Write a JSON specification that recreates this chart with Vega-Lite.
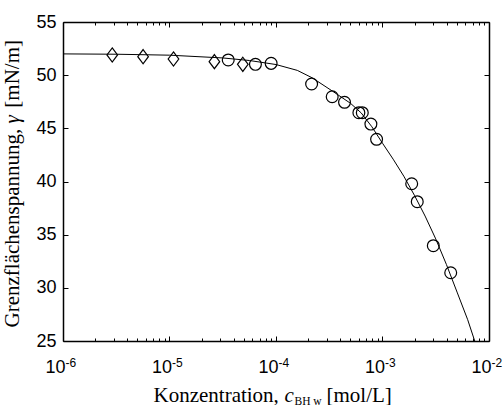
{
  "$schema": "https://vega.github.io/schema/vega-lite/v6.json",
  "width": 426,
  "height": 319,
  "autosize": {"type": "none"},
  "padding": {"left": 63, "top": 22, "right": 15, "bottom": 64},
  "background": "white",
  "config": {
    "view": {"stroke": null},
    "axis": {
      "grid": false,
      "domainColor": "black",
      "domainWidth": 1.5,
      "tickColor": "black",
      "tickWidth": 1,
      "labelColor": "black",
      "titleColor": "black",
      "labelFont": "Liberation Sans",
      "labelFontSize": 18,
      "titleFont": "Liberation Serif",
      "titleFontSize": 21,
      "titleFontWeight": "normal",
      "labelFlush": false,
      "labelOverlap": false
    }
  },
  "datasets": {
    "curve": [
      {"c": 0.000001, "gamma": 52.0},
      {"c": 0.000003162, "gamma": 51.97},
      {"c": 0.00001, "gamma": 51.88},
      {"c": 0.00003162, "gamma": 51.62},
      {"c": 0.00005623, "gamma": 51.38},
      {"c": 0.0001, "gamma": 51.0},
      {"c": 0.0001585, "gamma": 50.45},
      {"c": 0.0002188, "gamma": 49.75},
      {"c": 0.0003388, "gamma": 48.5},
      {"c": 0.0005012, "gamma": 47.35},
      {"c": 0.000631, "gamma": 46.45},
      {"c": 0.0007943, "gamma": 45.15},
      {"c": 0.001, "gamma": 43.6},
      {"c": 0.001259, "gamma": 42.1},
      {"c": 0.001585, "gamma": 40.5},
      {"c": 0.001995, "gamma": 38.7},
      {"c": 0.002512, "gamma": 36.75},
      {"c": 0.003162, "gamma": 34.6},
      {"c": 0.003981, "gamma": 32.2},
      {"c": 0.005012, "gamma": 29.6},
      {"c": 0.00631, "gamma": 27.0},
      {"c": 0.007345, "gamma": 25.0}
    ],
    "diamonds": [
      {"c": 0.0000029, "gamma": 51.9},
      {"c": 0.00000565, "gamma": 51.74},
      {"c": 0.0000109, "gamma": 51.52},
      {"c": 0.0000264, "gamma": 51.27},
      {"c": 0.0000488, "gamma": 51.02}
    ],
    "circles": [
      {"c": 0.0000356, "gamma": 51.43},
      {"c": 0.0000641, "gamma": 51.02},
      {"c": 0.00009, "gamma": 51.11},
      {"c": 0.000216, "gamma": 49.17},
      {"c": 0.000337, "gamma": 47.97},
      {"c": 0.00044, "gamma": 47.45},
      {"c": 0.0006, "gamma": 46.47},
      {"c": 0.000646, "gamma": 46.47},
      {"c": 0.000778, "gamma": 45.4},
      {"c": 0.00088, "gamma": 43.97},
      {"c": 0.00188, "gamma": 39.79},
      {"c": 0.00212, "gamma": 38.1},
      {"c": 0.003, "gamma": 33.96},
      {"c": 0.00437, "gamma": 31.42}
    ]
  },
  "layer": [
    {
      "data": {"name": "curve"},
      "mark": {"type": "line", "color": "black", "strokeWidth": 1, "clip": true},
      "encoding": {
        "x": {
          "field": "c", "type": "quantitative",
          "scale": {"type": "log", "domain": [0.000001, 0.01], "nice": false},
          "axis": {
            "orient": "bottom",
            "values": [0.000001,0.000002,0.000003,0.000004,0.000005,0.000006,0.000007,0.000008,0.000009,
                       0.00001,0.00002,0.00003,0.00004,0.00005,0.00006,0.00007,0.00008,0.00009,
                       0.0001,0.0002,0.0003,0.0004,0.0005,0.0006,0.0007,0.0008,0.0009,
                       0.001,0.002,0.003,0.004,0.005,0.006,0.007,0.008,0.009,0.01],
            "tickSize": {"condition": {"test": "datum.value == 0.000001 || datum.value == 0.00001 || datum.value == 0.0001 || datum.value == 0.001 || datum.value == 0.01", "value": -5}, "value": -3},
            "labelPadding": 22,
            "labelAlign": "right",
            "labelOffset": 2,
            "labelExpr": "(datum.value == 0.000001 || datum.value == 0.00001 || datum.value == 0.0001 || datum.value == 0.001 || datum.value == 0.01) ? '10' : ''",
            "title": "Konzentration,",
            "titleX": 90,
            "titleY": 60,
            "titleAlign": "left",
            "titleBaseline": "alphabetic"
          }
        },
        "y": {
          "field": "gamma", "type": "quantitative",
          "scale": {"domain": [25, 55], "nice": false, "zero": false},
          "axis": {
            "orient": "left",
            "values": [25, 30, 35, 40, 45, 50, 55],
            "tickSize": -5,
            "labelPadding": 12,
            "title": "Grenzflächenspannung,\u00a0\u00a0\u00a0\u00a0[mN/m]",
            "titleAngle": -90,
            "titleAlign": "left",
            "titleBaseline": "alphabetic",
            "titleX": -45,
            "titleY": 305
          }
        }
      }
    },
    {
      "data": {"name": "diamonds"},
      "mark": {"type": "point", "shape": "M0,-1L0.75,0L0,1L-0.75,0Z", "size": 200, "filled": false, "stroke": "black", "strokeWidth": 1.2, "opacity": 1},
      "encoding": {
        "x": {
          "field": "c", "type": "quantitative",
          "scale": {"type": "log", "domain": [0.000001, 0.01], "nice": false},
          "axis": {
            "orient": "top",
            "values": [0.000001,0.000002,0.000003,0.000004,0.000005,0.000006,0.000007,0.000008,0.000009,
                       0.00001,0.00002,0.00003,0.00004,0.00005,0.00006,0.00007,0.00008,0.00009,
                       0.0001,0.0002,0.0003,0.0004,0.0005,0.0006,0.0007,0.0008,0.0009,
                       0.001,0.002,0.003,0.004,0.005,0.006,0.007,0.008,0.009,0.01],
            "tickSize": {"condition": {"test": "datum.value == 0.000001 || datum.value == 0.00001 || datum.value == 0.0001 || datum.value == 0.001 || datum.value == 0.01", "value": -5}, "value": -3},
            "labels": false,
            "title": "c",
            "titleFontStyle": "italic",
            "titleX": 221,
            "titleY": 379,
            "titleAlign": "left",
            "titleBaseline": "alphabetic"
          }
        },
        "y": {
          "field": "gamma", "type": "quantitative",
          "scale": {"domain": [25, 55], "nice": false, "zero": false},
          "axis": {
            "orient": "right",
            "values": [25, 30, 35, 40, 45, 50, 55],
            "tickSize": -5,
            "labels": false,
            "title": "γ",
            "titleFontStyle": "italic",
            "titleAngle": -90,
            "titleAlign": "left",
            "titleBaseline": "alphabetic",
            "titleX": -471,
            "titleY": 101
          }
        }
      }
    },
    {
      "data": {"name": "circles"},
      "mark": {"type": "point", "shape": "circle", "size": 140, "filled": false, "stroke": "black", "strokeWidth": 1.2, "opacity": 1},
      "encoding": {
        "x": {
          "field": "c", "type": "quantitative",
          "scale": {"type": "log", "domain": [0.000001, 0.01], "nice": false},
          "axis": {
            "orient": "bottom",
            "values": [0.000001, 0.00001, 0.0001, 0.001, 0.01],
            "ticks": false,
            "domain": false,
            "labelFontSize": 12,
            "labelAlign": "left",
            "labelOffset": 2,
            "labelPadding": 16,
            "labelExpr": "datum.value == 0.000001 ? '-6' : datum.value == 0.00001 ? '-5' : datum.value == 0.0001 ? '-4' : datum.value == 0.001 ? '-3' : '-2'",
            "title": "BH w",
            "titleFontSize": 11.5,
            "titleX": 231,
            "titleY": 63,
            "titleAlign": "left",
            "titleBaseline": "alphabetic"
          }
        },
        "y": {
          "field": "gamma", "type": "quantitative",
          "scale": {"domain": [25, 55], "nice": false, "zero": false},
          "axis": {
            "orient": "left",
            "ticks": false,
            "labels": false,
            "domain": false,
            "title": "[mol/L]",
            "titleAngle": 0,
            "titleX": 263,
            "titleY": 379,
            "titleAlign": "left",
            "titleBaseline": "alphabetic"
          }
        }
      }
    }
  ],
  "resolve": {"axis": {"x": "independent", "y": "independent"}}
}
